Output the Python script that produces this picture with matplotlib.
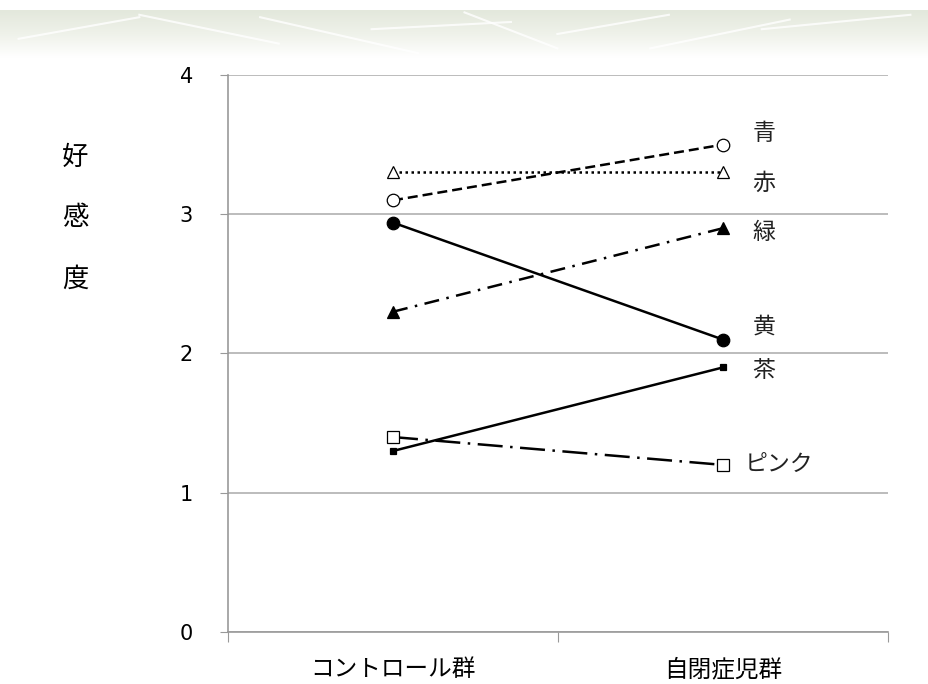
import matplotlib.pyplot as plt
import numpy as np

plt.rcParams['font.family'] = ['Noto Sans CJK JP', 'DejaVu Sans']

# 群ごとの好感度（色別）
groups = ['コントロール群', '自閉症児群']
colors_jp = ['青', '赤', '緑', '黄', '茶', 'ピンク']
blue = [3.1, 3.5]
red = [3.3, 3.3]
green = [2.3, 2.9]
yellow = [2.94, 2.1]
brown = [1.3, 1.9]
pink = [1.4, 1.2]
y_ticks = [0, 1, 2, 3, 4]

series = [
    (blue, dict(linestyle=(0, (4, 2)), marker='o', markersize=9,
                markerfacecolor='white')),
    (red, dict(linestyle=(0, (1, 1.4)), marker='^', markersize=9,
               markerfacecolor='white')),
    (green, dict(linestyle=(0, (6, 3, 1, 3)), marker='^', markersize=8,
                 markerfacecolor='black')),
    (yellow, dict(linestyle='-', marker='o', markersize=9,
                  markerfacecolor='black')),
    (brown, dict(linestyle='-', marker='s', markersize=5,
                 markerfacecolor='black')),
    (pink, dict(linestyle=(0, (10, 3, 1, 3)), marker='s', markersize=8,
                markerfacecolor='white')),
]
# ラベルの位置（右端の点からのずらし）
label_pos = [(1.09, 3.58), (1.09, 3.22), (1.09, 2.87),
             (1.09, 2.19), (1.09, 1.88), (1.067, 1.20)]

fig = plt.figure(figsize=(9.29, 6.84), dpi=100)

# 上部の帯（スライド背景）
band = fig.add_axes([0, 1 - 58 / 684, 1, 48 / 684])
grad = np.linspace(0, 1, 50)[:, None] * np.ones((1, 10))
band.imshow(grad, aspect='auto', cmap=plt.matplotlib.colors.LinearSegmentedColormap.from_list(
    'band', ['#e3e8dc', '#eff2ea', '#ffffff']), extent=[0, 1, 0, 1])
for x0, y0, x1, y1 in [(0.02, 0.4, 0.15, 0.85), (0.15, 0.9, 0.3, 0.3), (0.28, 0.85, 0.45, 0.1),
                       (0.4, 0.6, 0.55, 0.75), (0.6, 0.5, 0.72, 0.9), (0.7, 0.2, 0.85, 0.8),
                       (0.82, 0.6, 0.98, 0.9), (0.5, 0.95, 0.6, 0.2)]:
    band.plot([x0, x1], [y0, y1], color='white', lw=1.5, alpha=0.8)
band.set_xlim(0, 1)
band.set_ylim(0, 1)
band.axis('off')

ax = fig.add_axes([228 / 929, 1 - 632 / 684, 660 / 929, 557 / 684])
x = np.arange(len(groups))
for vals, style in series:
    ax.plot(x, vals, color='black', linewidth=1.8, markeredgecolor='black',
            markeredgewidth=0.9, **style)

for name, (lx, ly) in zip(colors_jp, label_pos):
    ax.text(lx, ly, name, fontsize=16.5, ha='left', va='center', color='#222222')

ax.set_xlim(-0.5, 1.5)
ax.set_ylim(0, 4)
ax.set_yticks(y_ticks)
ax.set_yticklabels([str(v) for v in y_ticks], fontsize=15, family='DejaVu Sans')
ax.set_xticks([-0.5, 0.5, 1.5], minor=False)
ax.set_xticklabels([])
ax.set_xticks(x, minor=True)
ax.set_xticklabels(groups, minor=True, fontsize=17)
ax.tick_params(axis='x', which='minor', length=0, pad=19)
ax.tick_params(axis='x', which='major', length=7, color='#999999', direction='out')
ax.tick_params(axis='y', length=6, color='#999999', pad=24)
for lbl in ax.get_yticklabels():
    lbl.set_horizontalalignment('center')
ax.grid(axis='y', color='#b0b0b0', linewidth=1.2)
ax.set_axisbelow(True)
for side in ['top', 'right']:
    ax.spines[side].set_visible(False)
for side in ['left', 'bottom']:
    ax.spines[side].set_color('#999999')
    ax.spines[side].set_linewidth(1.2)

# 縦書きの軸ラベル
for i, ch in enumerate('好感度'):
    fig.text(75 / 929, 1 - (157 + 61 * i) / 684, ch, fontsize=19,
             ha='center', va='center')

fig.savefig('out.png', dpi=100)
